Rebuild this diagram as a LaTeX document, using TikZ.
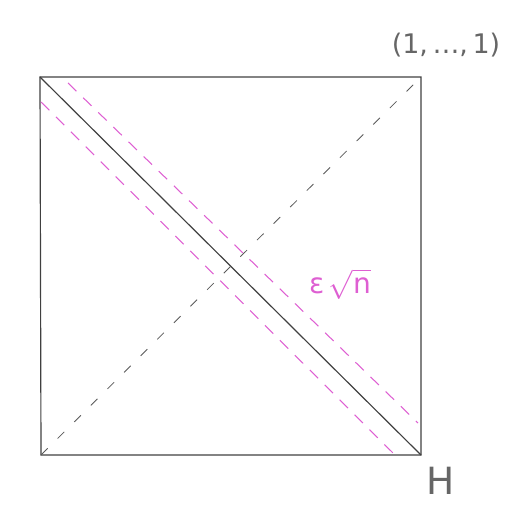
\documentclass[tikz,border=0pt]{standalone}
\usepackage{fontspec}
\setmainfont{DejaVu Sans}
\definecolor{pinkm}{RGB}{222,95,210}
\begin{document}
\begin{tikzpicture}[x=0.03cm,y=-0.03cm,
  edge/.style={draw=black!75,line width=1pt},
  diagdash/.style={draw=black!65,line width=0.7pt,dash pattern=on 8pt off 12pt},
  band/.style={draw=pinkm,line width=0.9pt,dash pattern=on 10pt off 8pt},
  lbl/.style={text=black!60,inner sep=0pt}]
\useasboundingbox (0,0) rectangle (507,511);
\coordinate (TL) at (40,77);
\coordinate (TR) at (421,77);
\coordinate (BR) at (421,455);
\coordinate (BL) at (41,455);
\draw[edge] (TL) -- (TR) -- (BR) -- (BL) -- cycle;
\draw[edge] (TL) -- (BR);
\draw[diagdash] (BL) -- (TR);
\coordinate (U1) at (68,83);
\coordinate (U2) at (418,423);
\coordinate (L1) at (41,102);
\coordinate (L2) at (393,453);
\draw[band] (U1) -- (U2);
\draw[band] (L1) -- (L2);
\node[lbl,font=\fontsize{23}{23}\selectfont] (one) at (446,45) {(1,\,…,\,1)};
\node[lbl,font=\fontsize{32}{32}\selectfont] (H) at (441,481) {H};
\node[text=pinkm,inner sep=0pt,font=\fontsize{24}{24}\selectfont] (eps) at (340,284) {ε\,$\sqrt{\mbox{n}}$};
\end{tikzpicture}
\end{document}
